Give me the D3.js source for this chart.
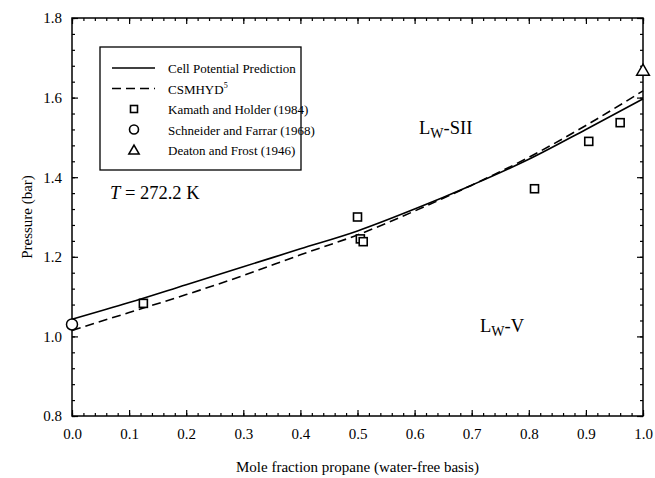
<!DOCTYPE html>
<html><head><meta charset="utf-8">
<script src="https://cdn.jsdelivr.net/npm/d3@7"></script>
<style>body{margin:0;background:#fff}svg{display:block;font-family:"Liberation Serif","Times New Roman",serif}</style>
</head><body><svg id="c" width="655" height="478"></svg>
<script>
// data
const curveX = [0,0.1,0.2,0.3,0.4,0.5,0.6,0.7,0.8,0.9,1.0];
const cellPotential = [1.043,1.085,1.13,1.175,1.22,1.265,1.32,1.38,1.445,1.52,1.597];
const csmhyd = [1.015,1.06,1.105,1.153,1.205,1.255,1.315,1.38,1.45,1.53,1.617];
const kamathX = [0.125,0.5,0.505,0.51,0.81,0.905,0.96];
const kamathY = [1.083,1.30,1.245,1.238,1.371,1.49,1.537];
const schneiderX = [0.0];
const schneiderY = [1.03];
const deatonX = [1.0];
const deatonY = [1.668];
const xTicks = [0,0.1,0.2,0.3,0.4,0.5,0.6,0.7,0.8,0.9,1.0];
const yTicks = [0.8,1.0,1.2,1.4,1.6,1.8];
const legendLabels = ["Cell Potential Prediction","CSMHYD","Kamath and Holder (1984)","Schneider and Farrar (1968)","Deaton and Frost (1946)"];

const svg = d3.select("#c");
const L=72,R=643,T=18,B=416;
const x = d3.scaleLinear().domain([0,1]).range([L,R]);
const y = d3.scaleLinear().domain([0.8,1.8]).range([B,T]);

const fmt = d3.format(".1f");
const xMinor = d3.range(0,1.0001,0.02);
const yMinor = d3.range(0.8,1.8001,0.04);

function axisGroup(axis, tx, ty){
  return svg.append("g").attr("transform",`translate(${tx},${ty})`).call(axis)
   .call(g=>g.select(".domain").remove());
}
// minor ticks
axisGroup(d3.axisBottom(x).tickValues(xMinor).tickSize(-3).tickFormat(""),0,B);
axisGroup(d3.axisTop(x).tickValues(xMinor).tickSize(-3).tickFormat(""),0,T);
axisGroup(d3.axisLeft(y).tickValues(yMinor).tickSize(-3).tickFormat(""),L,0);
axisGroup(d3.axisRight(y).tickValues(yMinor).tickSize(-3).tickFormat(""),R,0);
// major ticks
axisGroup(d3.axisBottom(x).tickValues(xTicks).tickSize(-6).tickPadding(12).tickFormat(fmt),0,B);
axisGroup(d3.axisTop(x).tickValues(xTicks).tickSize(-6).tickFormat(""),0,T);
axisGroup(d3.axisLeft(y).tickValues(yTicks).tickSize(-6).tickPadding(10).tickFormat(fmt),L,0);
axisGroup(d3.axisRight(y).tickValues(yTicks).tickSize(-6).tickFormat(""),R,0);
svg.selectAll(".tick line").attr("stroke","#000").attr("stroke-width",1.2);
svg.selectAll(".tick text").attr("font-family","Liberation Serif").attr("font-size",15).attr("fill","#000");

svg.append("rect").attr("x",L).attr("y",T).attr("width",R-L).attr("height",B-T)
  .attr("fill","none").attr("stroke","#000").attr("stroke-width",1.5);

// axis titles
svg.append("text").attr("x",(L+R)/2).attr("y",472).attr("text-anchor","middle")
  .attr("font-size",15).text("Mole fraction propane (water-free basis)");
svg.append("text").attr("transform",`translate(32,${(T+B)/2}) rotate(-90)`).attr("text-anchor","middle")
  .attr("font-size",15).text("Pressure (bar)");

// curves
const line = d3.line().x((d,i)=>x(curveX[i])).y(d=>y(d)).curve(d3.curveMonotoneX);
svg.append("path").datum(cellPotential).attr("d",line).attr("fill","none").attr("stroke","#000").attr("stroke-width",1.6);
svg.append("path").datum(csmhyd).attr("d",line).attr("fill","none").attr("stroke","#000").attr("stroke-width",1.6).attr("stroke-dasharray","9,5");

// markers
const sq = 8;
svg.selectAll(".kam").data(kamathX).enter().append("rect")
  .attr("x",(d)=>x(d)-sq/2).attr("y",(d,i)=>y(kamathY[i])-sq/2).attr("width",sq).attr("height",sq)
  .attr("fill","#fff").attr("stroke","#000").attr("stroke-width",1.6);
svg.selectAll(".sch").data(schneiderX).enter().append("circle")
  .attr("cx",d=>x(d)).attr("cy",(d,i)=>y(schneiderY[i])).attr("r",5.5)
  .attr("fill","#fff").attr("stroke","#000").attr("stroke-width",1.5);
const tri = d3.symbol().type(d3.symbolTriangle).size(70);
svg.selectAll(".dea").data(deatonX).enter().append("path")
  .attr("d",tri).attr("transform",(d,i)=>`translate(${x(d)},${y(deatonY[i])+1})`)
  .attr("fill","#fff").attr("stroke","#000").attr("stroke-width",1.5);

// legend
const lg = svg.append("g");
lg.append("rect").attr("x",100).attr("y",47).attr("width",201).attr("height",123)
  .attr("fill","#fff").attr("stroke","#000").attr("stroke-width",1.3);
const rowY = [68,88.5,109,129.5,150];
const sx = 134;
lg.append("line").attr("x1",112).attr("x2",155).attr("y1",rowY[0]).attr("y2",rowY[0]).attr("stroke","#000").attr("stroke-width",1.4);
lg.append("line").attr("x1",112).attr("x2",155).attr("y1",rowY[1]).attr("y2",rowY[1]).attr("stroke","#000").attr("stroke-width",1.4).attr("stroke-dasharray","9,5");
lg.append("rect").attr("x",sx-3.5).attr("y",rowY[2]-3.5).attr("width",7).attr("height",7).attr("fill","#fff").attr("stroke","#000").attr("stroke-width",1.6);
lg.append("circle").attr("cx",sx).attr("cy",rowY[3]).attr("r",4.5).attr("fill","#fff").attr("stroke","#000").attr("stroke-width",1.6);
lg.append("path").attr("d",d3.symbol().type(d3.symbolTriangle).size(45)).attr("transform",`translate(${sx},${rowY[4]+1})`).attr("fill","#fff").attr("stroke","#000").attr("stroke-width",1.6);
legendLabels.forEach((t,i)=>{
  const tx = lg.append("text").attr("x",168).attr("y",rowY[i]+5).attr("font-size",13).text(t);
  if(i===1) tx.append("tspan").attr("font-size",8).attr("dy",-6).text("5");
});

// annotations
const ta = svg.append("text").attr("x",110).attr("y",199).attr("font-size",18.5);
ta.append("tspan").attr("font-style","italic").text("T");
ta.append("tspan").text(" = 272.2 K");
function phase(xp,yp,main){
  const t = svg.append("text").attr("x",xp).attr("y",yp).attr("font-size",18.5);
  t.append("tspan").text("L");
  t.append("tspan").attr("font-size",14).attr("dy",4).text("W");
  t.append("tspan").attr("dy",-4).text(main);
}
phase(419,134,"-SII");
phase(480,332,"-V");
</script></body></html>
